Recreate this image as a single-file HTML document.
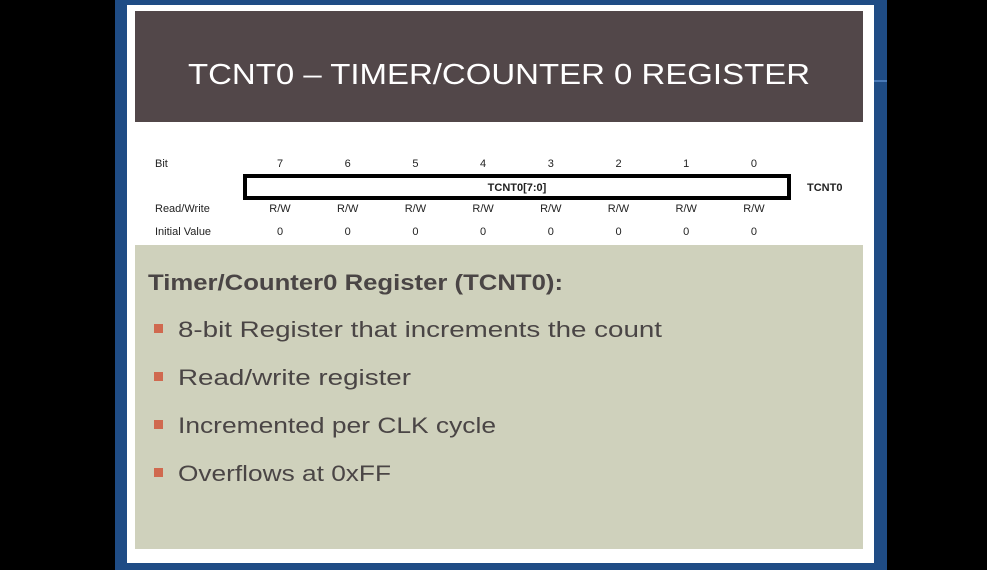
<!DOCTYPE html>
<html><head><meta charset="utf-8"><style>
html,body{margin:0;padding:0;background:#000;}
svg{display:block;}
text{font-family:"Liberation Sans",sans-serif;}
</style></head><body>
<svg width="987" height="570" viewBox="0 0 987 570">
<rect x="0" y="0" width="987" height="570" fill="#000"/>
<rect x="115" y="0" width="772" height="570" fill="#1f4c85"/>
<rect x="874" y="80" width="13" height="2" fill="#4a7ab8"/>
<rect x="127" y="5" width="747" height="558" fill="#ffffff"/>
<rect x="135" y="11" width="728" height="111" fill="#524749"/>
<text x="499" y="84" text-anchor="middle" fill="#ffffff" font-size="29" textLength="622" lengthAdjust="spacingAndGlyphs">TCNT0 – TIMER/COUNTER 0 REGISTER</text>

<g font-size="11" fill="#222">
<text x="155" y="167">Bit</text>
<text x="155" y="212">Read/Write</text>
<text x="155" y="235">Initial Value</text>
<rect x="245" y="176" width="544" height="22" fill="#fff" stroke="#000" stroke-width="4"/>
<text x="517" y="191" text-anchor="middle" font-weight="bold" font-size="11">TCNT0[7:0]</text>
<text x="807" y="191" font-weight="bold" font-size="11">TCNT0</text>
</g>
<g id="cols"></g>

<rect x="135" y="245" width="728" height="304" fill="#cfd1bc"/>
<text x="148" y="290" fill="#4a4545" font-size="22" font-weight="bold" textLength="415" lengthAdjust="spacingAndGlyphs">Timer/Counter0 Register (TCNT0):</text>
<g id="bullets"></g>
</svg>
<script>
const bits=["7","6","5","4","3","2","1","0"];
const access=["R/W","R/W","R/W","R/W","R/W","R/W","R/W","R/W"];
const initVals=["0","0","0","0","0","0","0","0"];
const bulletTexts=["8-bit Register that increments the count","Read/write register","Incremented per CLK cycle","Overflows at 0xFF"];
const bulletWidths=[484,233,318,213];
const NS="http://www.w3.org/2000/svg";
const cols=document.getElementById('cols');
function t(x,y,s,name,attrs){
  const e=document.createElementNS(NS,'text');
  e.setAttribute('x',x);e.setAttribute('y',y);
  for(const k in attrs)e.setAttribute(k,attrs[k]);
  e.textContent=s;
  
  
  return e;
}
bits.forEach((b,i)=>{
  const x=280+i*67.7;
  cols.appendChild(t(x,167,b,'bit-number',{'text-anchor':'middle','font-size':'11','fill':'#222'}));
  cols.appendChild(t(x,212,access[i],'bit-access',{'text-anchor':'middle','font-size':'11','fill':'#222'}));
  cols.appendChild(t(x,235,initVals[i],'bit-initial-value',{'text-anchor':'middle','font-size':'11','fill':'#222'}));
});
const bl=document.getElementById('bullets');
bulletTexts.forEach((s,i)=>{
  const y=337+i*48;
  const r=document.createElementNS(NS,'rect');
  r.setAttribute('x',154);r.setAttribute('y',y-13);r.setAttribute('width',9);r.setAttribute('height',9);r.setAttribute('fill','#d0694f');
  
  
  bl.appendChild(r);
  bl.appendChild(t(178,y,s,'bullet-text',{'font-size':'22','fill':'#4a4545','textLength':bulletWidths[i],'lengthAdjust':'spacingAndGlyphs'}));
});
</script>
</body></html>
